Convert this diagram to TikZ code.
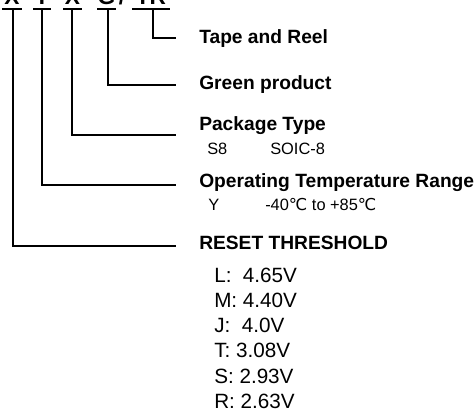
\documentclass[tikz,border=0pt]{standalone}
\usepackage{fontspec}
\setmainfont{Liberation Sans}
\newfontfamily\dvs{DejaVu Sans}
\begin{document}
\begin{tikzpicture}[x=0.75pt,y=-0.75pt]
\tikzset{
  code/.style={font=\fontsize{17}{20}\selectfont\bfseries, anchor=base, inner sep=0pt},
  head/.style={font=\fontsize{14.4}{17}\selectfont\bfseries, anchor=base west, inner sep=0pt},
  sub/.style={font=\fontsize{12.3}{14}\selectfont, anchor=base west, inner sep=0pt},
  item/.style={font=\fontsize{15.5}{18}\selectfont, anchor=base west, inner sep=0pt},
  lead/.style={line width=1pt}
}
\useasboundingbox (0,0) rectangle (476,410);
\clip (0,0) rectangle (476,410);
% code letters
\node[code] (c1) at (12,5) {X};
\node[code] (c2) at (42,5) {Y};
\node[code] (c3) at (72.5,5) {X};
\node[code] (c4) at (106.5,5) {G};
\node[code] (sl) at (122,5) {/};
\node[code] (c5) at (151,5) {TR};
% underline bars
\draw[lead] (2,9) -- (22,9);
\draw[lead] (33,9) -- (51,9);
\draw[lead] (63,9) -- (82,9);
\draw[lead] (97,9) -- (116,9);
\draw[lead] (132,9) -- (170,9);
% lead tops
\coordinate (b1) at (13,9);
\coordinate (b2) at (42,9);
\coordinate (b3) at (72,9);
\coordinate (b4) at (108,9);
\coordinate (b5) at (153,9);
% lead ends
\coordinate (e5) at (176,38);
\coordinate (e4) at (176,85);
\coordinate (e3) at (176,135);
\coordinate (e2) at (176,185);
\coordinate (e1) at (176,246);
% headings
\node[head] (h5) at (199,43.5) {Tape and Reel};
\node[head] (h4) at (199,90) {Green product};
\node[head] (h3) at (199,131) {Package Type};
\node[sub] (s3a) at (207,155) {S8};
\node[sub] (s3b) at (270,155) {SOIC-8};
\node[head] (h2) at (199,188) {Operating Temperature Range};
\node[sub] (s2a) at (208,211) {Y};
\node[sub] (s2b) at (265,211) {-40{\dvs ℃} to +85{\dvs ℃}};
\node[head] (h1) at (199,250) {RESET THRESHOLD};
\node[item] (i1) at (214,283) {L:\ \ 4.65V};
\node[item] (i2) at (214,308) {M: 4.40V};
\node[item] (i3) at (214,333) {J:\ \ 4.0V};
\node[item] (i4) at (214,358) {T: 3.08V};
\node[item] (i5) at (214,383) {S: 2.93V};
\node[item] (i6) at (214,408) {R: 2.63V};
% leads
\draw[lead] (b5) |- (e5);
\draw[lead] (b4) |- (e4);
\draw[lead] (b3) |- (e3);
\draw[lead] (b2) |- (e2);
\draw[lead] (b1) |- (e1);
\end{tikzpicture}
\end{document}
